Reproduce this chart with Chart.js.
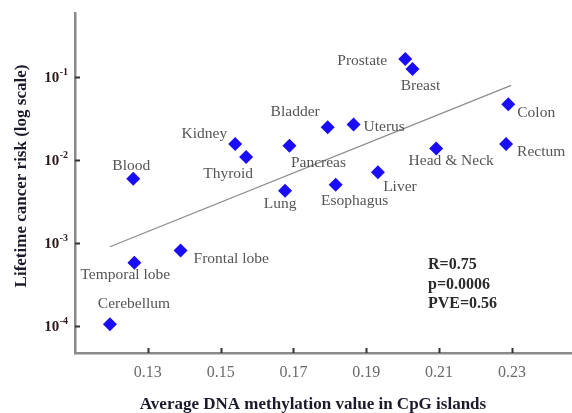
<!DOCTYPE html>
<html>
<head>
<meta charset="utf-8">
<script src="https://cdn.jsdelivr.net/npm/chart.js@4.4.1/dist/chart.umd.min.js"></script>
<style>
  html, body { margin: 0; padding: 0; background: #fff; overflow: hidden; }
  #wrap { width: 572px; height: 413px; position: relative; }
  canvas { display: block; }
</style>
</head>
<body>
<div id="wrap"><canvas id="c"></canvas></div>
<script>
// Tissue types with their mean CpG-island methylation and lifetime cancer risk
const tissues = ['Cerebellum', 'Temporal lobe', 'Frontal lobe', 'Blood', 'Kidney', 'Thyroid',
  'Lung', 'Pancreas', 'Bladder', 'Uterus', 'Esophagus', 'Liver', 'Head & Neck',
  'Prostate', 'Breast', 'Colon', 'Rectum'];
const methylation = [0.1196, 0.1263, 0.1390, 0.1260, 0.1540, 0.1570,
  0.1677, 0.1689, 0.1794, 0.1865, 0.1816, 0.1932, 0.2092,
  0.2007, 0.2027, 0.2290, 0.2284];
const cancerRisk = [0.000106, 0.000585, 0.00082, 0.0060, 0.0158, 0.0110,
  0.0043, 0.0150, 0.0250, 0.0270, 0.0051, 0.0072, 0.0139,
  0.166, 0.126, 0.0476, 0.0158];

// Least-squares fit line endpoints (x, risk)
const fitX = [0.1196, 0.2298];
const fitRisk = [0.00091, 0.080];

// Axis ticks
const xTicks = [0.13, 0.15, 0.17, 0.19, 0.21, 0.23];
const yTickExponents = [-4, -3, -2, -1];

// Correlation summary
const statsLines = ['R=0.75', 'p=0.0006', 'PVE=0.56'];

// Where each tissue name sits relative to its marker
const labelPlacement = {
  'Cerebellum':    { dx: 24,  dy: -20, align: 'center' },
  'Temporal lobe': { dx: -9,  dy: 12,  align: 'center' },
  'Frontal lobe':  { dx: 13,  dy: 8,   align: 'left' },
  'Blood':         { dx: -2,  dy: -13, align: 'center' },
  'Kidney':        { dx: -8,  dy: -10, align: 'right' },
  'Thyroid':       { dx: -18, dy: 17,  align: 'center' },
  'Lung':          { dx: -5,  dy: 13,  align: 'center' },
  'Pancreas':      { dx: 29,  dy: 17,  align: 'center' },
  'Bladder':       { dx: -8,  dy: -15, align: 'right' },
  'Uterus':        { dx: 10,  dy: 2,   align: 'left' },
  'Esophagus':     { dx: 19,  dy: 16,  align: 'center' },
  'Liver':         { dx: 22,  dy: 15,  align: 'center' },
  'Head & Neck':   { dx: 15,  dy: 12,  align: 'center' },
  'Prostate':      { dx: -18, dy: 2,   align: 'right' },
  'Breast':        { dx: 8,   dy: 17,  align: 'center' },
  'Colon':         { dx: 9,   dy: 9,   align: 'left' },
  'Rectum':        { dx: 11,  dy: 8,   align: 'left' }
};

const SERIF = '"Liberation Serif", "DejaVu Serif", serif';
const AXIS_COLOR = '#8a8a8a';

const points = tissues.map((t, i) => ({ x: methylation[i], y: cancerRisk[i] }));
const fitLine = fitX.map((x, i) => ({ x: x, y: fitRisk[i] }));

const annotatePlugin = {
  id: 'annotate',
  afterDatasetsDraw(chart) {
    const ctx = chart.ctx;
    const xs = chart.scales.x, ys = chart.scales.y;
    const area = chart.chartArea;
    ctx.save();

    // inward tick marks
    ctx.strokeStyle = '#333';
    ctx.lineWidth = 2;
    xTicks.forEach(v => {
      const px = Math.round(xs.getPixelForValue(v)) + 0.5;
      ctx.beginPath();
      ctx.moveTo(px, area.bottom);
      ctx.lineTo(px, area.bottom - 5);
      ctx.stroke();
    });
    yTickExponents.forEach(e => {
      const py = Math.round(ys.getPixelForValue(Math.pow(10, e))) + 0.5;
      ctx.beginPath();
      ctx.moveTo(area.left, py);
      ctx.lineTo(area.left + 5, py);
      ctx.stroke();
    });

    // y tick labels as powers of ten
    ctx.fillStyle = '#2a1a1a';
    ctx.textBaseline = 'middle';
    yTickExponents.forEach(e => {
      const py = ys.getPixelForValue(Math.pow(10, e));
      const expTxt = String(e);
      ctx.font = 'bold 10px ' + SERIF;
      const ew = ctx.measureText(expTxt).width;
      ctx.textAlign = 'left';
      const right = area.left - 7;
      ctx.fillText(expTxt, right - ew, py - 5);
      ctx.font = 'bold 15px ' + SERIF;
      ctx.textAlign = 'right';
      ctx.fillText('10', right - ew - 0.5, py + 1);
    });

    // tissue names
    ctx.font = '15.5px ' + SERIF;
    ctx.fillStyle = '#555555';
    ctx.textBaseline = 'middle';
    tissues.forEach((t, i) => {
      const p = labelPlacement[t];
      const px = xs.getPixelForValue(methylation[i]);
      const py = ys.getPixelForValue(cancerRisk[i]);
      ctx.textAlign = p.align;
      ctx.fillText(t, px + p.dx, py + p.dy);
    });

    // correlation summary
    ctx.font = 'bold 16px ' + SERIF;
    ctx.fillStyle = '#2a2a2a';
    ctx.textAlign = 'left';
    statsLines.forEach((s, i) => {
      ctx.fillText(s, 428, 265 + i * 19.5);
    });

    // axis titles
    ctx.font = 'bold 17px ' + SERIF;
    ctx.fillStyle = '#1a1a2a';
    ctx.textAlign = 'center';
    ctx.fillText('Average DNA methylation value in CpG islands', 313, 405);
    ctx.translate(22, 176);
    ctx.rotate(-Math.PI / 2);
    ctx.fillText('Lifetime cancer risk (log scale)', 0, 0);
    ctx.restore();
  }
};

new Chart(document.getElementById('c'), {
  type: 'scatter',
  data: {
    datasets: [
      {
        label: 'Tissues',
        data: points,
        pointStyle: 'rectRot',
        pointRadius: 7,
        pointHoverRadius: 7,
        backgroundColor: '#1a0cf5',
        borderColor: '#1a0cf5',
        borderWidth: 0,
        order: 1
      },
      {
        label: 'Fit',
        type: 'line',
        data: fitLine,
        borderColor: '#8c8c8c',
        borderWidth: 1.3,
        pointRadius: 0,
        fill: false,
        order: 2
      }
    ]
  },
  options: {
    responsive: true,
    maintainAspectRatio: false,
    animation: false,
    devicePixelRatio: 1,
    layout: { autoPadding: false, padding: { top: 13, right: 0, left: 0, bottom: 0 } },
    plugins: { legend: { display: false }, tooltip: { enabled: false } },
    scales: {
      x: {
        type: 'linear',
        min: 0.11,
        max: 0.2465,
        afterFit(scale) {
          scale.height = 60;
          scale.paddingLeft = 0;
          scale.paddingRight = 0;
        },
        afterBuildTicks(scale) { scale.ticks = xTicks.map(v => ({ value: v })); },
        grid: { display: false, drawTicks: false },
        border: { display: true, color: AXIS_COLOR, width: 2.5 },
        ticks: {
          padding: 10,
          color: '#6a6a6a',
          font: { family: SERIF, size: 16 },
          callback: v => v.toFixed(2)
        }
      },
      y: {
        type: 'logarithmic',
        min: 4.77e-5,
        max: 0.597,
        afterFit(scale) {
          scale.width = 75;
          scale.paddingTop = 0;
          scale.paddingBottom = 0;
        },
        afterBuildTicks(scale) { scale.ticks = yTickExponents.map(e => ({ value: Math.pow(10, e) })); },
        grid: { display: false, drawTicks: false },
        border: { display: true, color: AXIS_COLOR, width: 2.5 },
        ticks: { display: false }
      }
    }
  },
  plugins: [annotatePlugin]
});
</script>
</body>
</html>
